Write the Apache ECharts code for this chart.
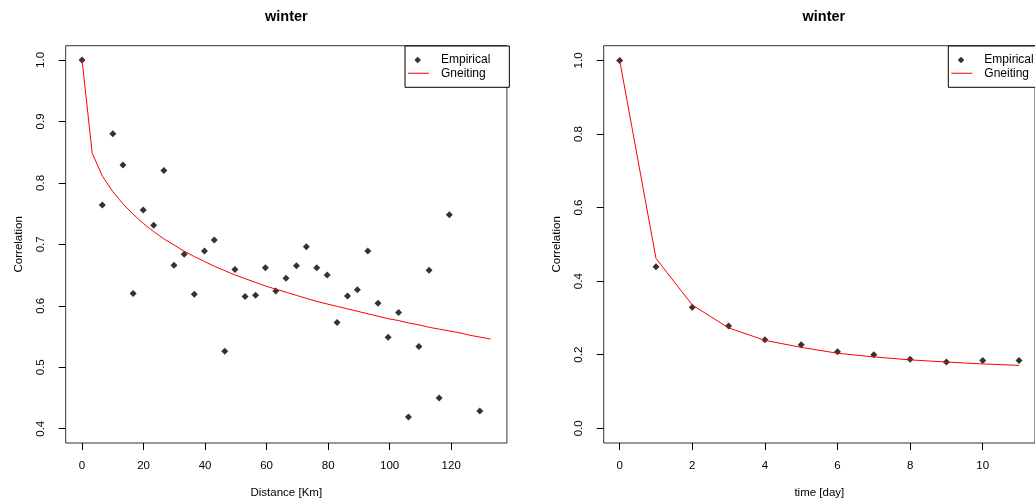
<!DOCTYPE html>
<html>
<head>
<meta charset="utf-8">
<script src="https://cdn.jsdelivr.net/npm/echarts@6/dist/echarts.min.js"></script>
<style>
html,body{margin:0;padding:0;background:#fff;}
#chart{width:1035px;height:504px;}
</style>
</head>
<body>
<div id="chart"></div>
<script>
// ---- data ----
const distEmp = [0, 6.6, 10.0, 13.3, 16.6, 19.9, 23.3, 26.6, 29.9, 33.2, 36.5, 39.8, 43.0, 46.4, 49.7, 53.0, 56.4, 59.6, 63.0, 66.3, 69.7, 72.9, 76.3, 79.7, 82.9, 86.3, 89.5, 92.9, 96.2, 99.5, 102.9, 106.1, 109.5, 112.8, 116.1, 119.4, 129.3];
const corrDistEmp = [1.000, 0.764, 0.880, 0.829, 0.620, 0.756, 0.731, 0.820, 0.666, 0.684, 0.619, 0.689, 0.707, 0.526, 0.659, 0.615, 0.617, 0.662, 0.624, 0.645, 0.665, 0.696, 0.662, 0.650, 0.573, 0.616, 0.626, 0.689, 0.604, 0.549, 0.589, 0.419, 0.534, 0.658, 0.450, 0.748, 0.429];
const distFit = [0, 3.32, 6.64, 9.96, 13.28, 16.6, 19.92, 23.24, 26.56, 29.88, 33.2, 36.52, 39.84, 43.16, 46.48, 49.8, 53.12, 56.44, 59.76, 63.08, 66.4, 69.72, 73.04, 76.36, 79.68, 83.0, 86.32, 89.64, 92.96, 96.28, 99.6, 102.92, 106.24, 109.56, 112.88, 116.2, 119.52, 122.84, 126.16, 129.48, 132.8];
const corrDistFit = [1.000, 0.848, 0.811, 0.786, 0.766, 0.749, 0.734, 0.721, 0.709, 0.699, 0.689, 0.680, 0.672, 0.664, 0.657, 0.650, 0.644, 0.638, 0.632, 0.627, 0.622, 0.617, 0.612, 0.607, 0.603, 0.599, 0.595, 0.591, 0.587, 0.583, 0.579, 0.576, 0.572, 0.569, 0.565, 0.562, 0.559, 0.556, 0.552, 0.549, 0.546];

const dayEmp = [0, 1, 2, 3, 4, 5, 6, 7, 8, 9, 10, 11];
const corrDayEmp = [1.000, 0.439, 0.329, 0.278, 0.241, 0.227, 0.208, 0.200, 0.188, 0.180, 0.184, 0.184];
const dayFit = [0, 1, 2, 3, 4, 5, 6, 7, 8, 9, 10, 11];
const corrDayFit = [1.000, 0.462, 0.335, 0.273, 0.239, 0.220, 0.204, 0.194, 0.186, 0.180, 0.175, 0.171];

const distTicks = [0, 20, 40, 60, 80, 100, 120];
const corrTicksLeft = [0.4, 0.5, 0.6, 0.7, 0.8, 0.9, 1.0];
const dayTicks = [0, 2, 4, 6, 8, 10];
const corrTicksRight = [0.0, 0.2, 0.4, 0.6, 0.8, 1.0];

const titleText = 'winter';
const xNameLeft = 'Distance [Km]';
const xNameRight = 'time [day]';
const yName = 'Correlation';
const legendNames = ['Empirical', 'Gneiting'];

// ---- chart ----
const FONT = "'Liberation Sans', Arial, Helvetica, sans-serif";
const pair = (xs, ys) => xs.map((x, i) => [x, ys[i]]);

const diamondIcon = 'path://M0,0L0.01,0M28,12L27.99,12M9.7,2.7L13,6L9.7,9.3L6.4,6Z';
const lineIcon = 'path://M0,0L0.01,0M28,12L27.99,12M0,5.5L21,5.5L21,6.5L0,6.5Z';

function xAxisCfg(gridIndex, min, max, ticks, name) {
  return {
    type: 'value', gridIndex, min, max, name,
    nameLocation: 'middle', nameGap: 44,
    nameTextStyle: {fontFamily: FONT, fontSize: 11.5, color: '#000'},
    splitLine: {show: false},
    axisLine: {show: false, onZero: false},
    axisTick: {show: true, inside: false, length: 7, customValues: ticks, lineStyle: {color: '#000', width: 1}},
    axisLabel: {show: true, customValues: ticks, margin: 17, fontFamily: FONT, fontSize: 11.5, color: '#000',
      formatter: v => String(v)}
  };
}
function yAxisCfg(gridIndex, min, max, ticks, name) {
  return {
    type: 'value', gridIndex, min, max, name,
    nameLocation: 'middle', nameGap: 41, nameRotate: 90,
    nameTextStyle: {fontFamily: FONT, fontSize: 11.5, color: '#000'},
    splitLine: {show: false},
    axisLine: {show: false, onZero: false},
    axisTick: {show: true, inside: false, length: 7, customValues: ticks, lineStyle: {color: '#000', width: 1}},
    axisLabel: {show: true, customValues: ticks, margin: 19, rotate: 90, fontFamily: FONT, fontSize: 11.5, color: '#000',
      formatter: v => Number(v).toFixed(1)}
  };
}
function legendCfg(left) {
  return {
    orient: 'vertical', left, top: 46,
    padding: [8, 19, 8, 3], itemGap: 1.3,
    itemWidth: 28, itemHeight: 12,
    borderColor: '#000', borderWidth: 1, borderRadius: 0,
    backgroundColor: '#fff',
    selectedMode: false,
    itemStyle: {borderWidth: 0},
    textStyle: {fontFamily: FONT, fontSize: 12, color: '#000'},
    data: [{name: legendNames[0], icon: diamondIcon}, {name: legendNames[1], icon: lineIcon}]
  };
}

const chart = echarts.init(document.getElementById('chart'), null, {renderer: 'canvas'});
chart.setOption({
  animation: false,
  backgroundColor: '#fff',
  title: [
    {text: titleText, left: 286.4, top: 8.5, textAlign: 'center', padding: 0,
      textStyle: {fontFamily: FONT, fontSize: 14.5, fontWeight: 'bold', color: '#000', lineHeight: 16}},
    {text: titleText, left: 823.9, top: 8.5, textAlign: 'center', padding: 0,
      textStyle: {fontFamily: FONT, fontSize: 14.5, fontWeight: 'bold', color: '#000', lineHeight: 16}}
  ],
  legend: [legendCfg(405), legendCfg(948.3)],
  grid: [
    {left: 65.7, top: 45.7, width: 441.2, height: 398.3, show: true, borderColor: '#333', borderWidth: 1, backgroundColor: 'transparent', containLabel: false},
    {left: 603.7, top: 45.7, width: 440.3, height: 398.3, show: true, borderColor: '#333', borderWidth: 1, backgroundColor: 'transparent', containLabel: false}
  ],
  xAxis: [
    xAxisCfg(0, -5.31, 138.11, distTicks, xNameLeft),
    xAxisCfg(1, -0.44, 11.44, dayTicks, xNameRight)
  ],
  yAxis: [
    yAxisCfg(0, 0.3768, 1.0232, corrTicksLeft, yName),
    yAxisCfg(1, -0.04, 1.04, corrTicksRight, yName)
  ],
  series: [
    {name: legendNames[0], type: 'scatter', xAxisIndex: 0, yAxisIndex: 0, symbol: 'diamond', symbolSize: 7,
      itemStyle: {color: '#000'}, data: pair(distEmp, corrDistEmp), z: 2},
    {name: legendNames[1], type: 'line', xAxisIndex: 0, yAxisIndex: 0, symbol: 'none', smooth: false,
      itemStyle: {color: '#ff0000'}, lineStyle: {color: '#ff0000', width: 1}, data: pair(distFit, corrDistFit), z: 3},
    {name: legendNames[0], type: 'scatter', xAxisIndex: 1, yAxisIndex: 1, symbol: 'diamond', symbolSize: 7,
      itemStyle: {color: '#000'}, data: pair(dayEmp, corrDayEmp), z: 2},
    {name: legendNames[1], type: 'line', xAxisIndex: 1, yAxisIndex: 1, symbol: 'none', smooth: false,
      itemStyle: {color: '#ff0000'}, lineStyle: {color: '#ff0000', width: 1}, data: pair(dayFit, corrDayFit), z: 3}
  ]
});
</script>
</body>
</html>
